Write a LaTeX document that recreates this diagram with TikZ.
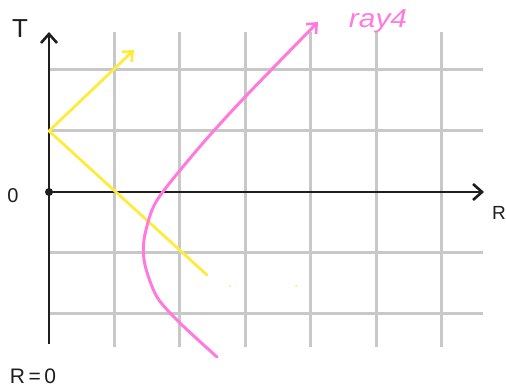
\documentclass[tikz,border=0pt]{standalone}
\usepackage{fontspec}
\setmainfont{Liberation Sans}
\usetikzlibrary{arrows.meta,positioning}
\definecolor{gridgray}{HTML}{C8C8C8}
\definecolor{rayyellow}{HTML}{FFEB3B}
\definecolor{raypink}{HTML}{FF7ADC}
\definecolor{inkblack}{HTML}{1E1E1E}

\begin{document}
\begin{tikzpicture}[
    x=1pt, y=-1pt,
    gridline/.style={draw=gridgray, line width=3pt},
    axis/.style={draw=inkblack, line width=2.8pt, -{Straight Barb[length=9pt,width=16pt,line width=2.6pt]}},
    yray/.style={draw=rayyellow, line width=2.8pt, line cap=round},
    pray/.style={draw=raypink, line width=3pt, line cap=round},
    lbl/.style={inner sep=0pt, text=inkblack}
]
    \useasboundingbox (0,0) rectangle (506,387);
    % grid
    \foreach \k in {1,...,6}
        \draw[gridline] (49+65.4*\k,32) -- (49+65.4*\k,347);
    \foreach \y in {70,131,253,314}
        \draw[gridline] (49,\y) -- (483,\y);
    % axes
    \coordinate (origin) at (49,192);
    \coordinate (tbottom) at (49,344);
    \coordinate (ttop) at (49,32);
    \coordinate (rend) at (484,192);
    \draw[axis] (tbottom) -- (ttop);
    \draw[axis] (origin) -- (rend);
    \fill[inkblack] (origin) circle (4pt);
    \node[lbl, font=\fontsize{26}{26}\selectfont] (tlabel) at (20,29) {T};
    \node[lbl, font=\fontsize{20}{20}\selectfont] (zerolabel) at (13,196) {0};
    \node[lbl, font=\fontsize{19}{19}\selectfont] (rlabel) at (499,213) {R};
    \node[lbl, font=\fontsize{21}{21}\selectfont] (rzero) at (33,376) {R\,=\,0};
    % yellow ray
    \coordinate (ystart) at (49,131);
    \coordinate (yup) at (134,50);
    \coordinate (ydown) at (207,275);
    \draw[yray, -{Straight Barb[length=8pt,width=14pt,line width=2.6pt]}] (ystart) -- (yup);
    \draw[yray] (ystart) -- (ydown);
    \fill[rayyellow] (230,286) circle (1pt) (296,286) circle (1pt);
    % pink ray
    \draw[pray, -{Straight Barb[length=8pt,width=14pt,line width=2.6pt]}] plot[smooth] coordinates {
        (217,357) (180,323) (157,297) (145,265)
        (144,240) (152,210) (165,189) (203,143)
        (245,97) (318,22)};
    \node[lbl, text=raypink, font=\fontsize{26}{26}\selectfont\itshape, xscale=1.15] (raylabel) at (378,21) {ray4};
\end{tikzpicture}
\end{document}
